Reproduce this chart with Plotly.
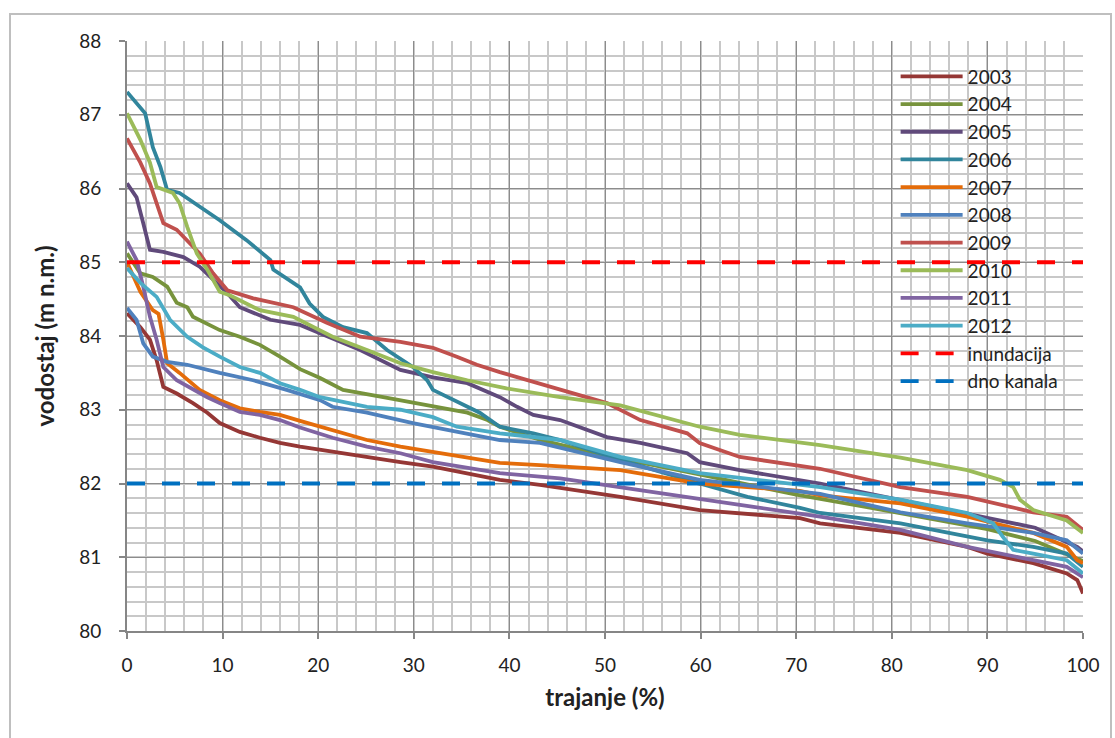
import plotly.graph_objects as go

years = ["2003", "2004", "2005", "2006", "2007", "2008", "2009", "2010", "2011", "2012"]
colors = ["#953735", "#77933C", "#604A7B", "#31859C", "#E46C0A",
          "#4F81BD", "#C0504D", "#9BBB59", "#8064A2", "#4BACC6"]

x_2003 = [0, 1.4, 2.4, 3.1, 3.8, 5.2, 6.9, 8.4, 9.7, 11.8, 13.9, 16, 18.1, 21.5, 25.1, 28.6, 32, 35.6, 39,
          43.2, 45.3, 51.6, 59.9, 70.4, 72.5, 80.9, 87.9, 90, 94.8, 98.3, 99.4, 100]
y_2003 = [84.31, 84.12, 83.95, 83.67, 83.31, 83.22, 83.09, 82.96, 82.82, 82.70, 82.62, 82.55, 82.5, 82.43, 82.36,
          82.29, 82.23, 82.14, 82.05, 81.98, 81.94, 81.82, 81.64, 81.53, 81.46, 81.33, 81.14, 81.05, 80.92, 80.78,
          80.69, 80.51]

x_2004 = [0, 1, 1.4, 2.7, 4.2, 5.2, 6.3, 6.9, 7.9, 9.7, 11.8, 13.9, 16, 18.1, 20.2, 22.6, 26.8, 32, 35.6, 37.7,
          39, 43, 50, 60, 70, 80, 90, 95, 100]
y_2004 = [85.12, 84.94, 84.85, 84.8, 84.67, 84.45, 84.39, 84.26, 84.2, 84.08, 83.99, 83.88, 83.72, 83.55, 83.43,
          83.27, 83.17, 83.04, 82.96, 82.86, 82.77, 82.6, 82.38, 82.12, 81.85, 81.62, 81.38, 81.22, 80.95]

x_2005 = [0, 1, 1.7, 2.4, 3.8, 5.9, 7.6, 9, 10.5, 11.8, 15, 18.1, 24.4, 28.6, 32, 35.6, 39, 40.8, 42.5, 45.3,
          50.2, 53.7, 58.6, 59.9, 64.1, 72.5, 80, 90.6, 95, 99.4, 100]
y_2005 = [86.07, 85.88, 85.53, 85.17, 85.14, 85.07, 84.94, 84.76, 84.58, 84.39, 84.22, 84.15, 83.81, 83.54,
          83.44, 83.36, 83.17, 83.04, 82.93, 82.86, 82.63, 82.55, 82.41, 82.29, 82.18, 82.0, 81.8, 81.53, 81.4,
          81.14, 81.08]

x_2006 = [0, 1.9, 2.7, 3.5, 4.2, 5.5, 9.7, 12.5, 15, 15.3, 18.1, 19.1, 20.5, 22.6, 25.1, 27.2, 29.9, 31.4, 32,
          34.8, 36.9, 39, 42.5, 45.3, 51.6, 59.9, 64.9, 70.4, 72.5, 80.9, 90, 94.8, 98.3, 100]
y_2006 = [87.31, 87.02, 86.56, 86.29, 85.98, 85.94, 85.57, 85.3, 85.03, 84.9, 84.66, 84.44, 84.26, 84.12, 84.04,
          83.81, 83.58, 83.40, 83.27, 83.09, 82.96, 82.77, 82.68, 82.59, 82.32, 82.0, 81.82, 81.67, 81.6, 81.46,
          81.23, 81.14, 81.05, 80.87]

x_2007 = [0, 1.4, 2.7, 3.3, 3.8, 4.2, 5.5, 7.6, 9.7, 11.8, 13.9, 16, 18.1, 21.5, 25.1, 28.6, 32, 35.6, 39, 43.2,
          51.6, 59.9, 70.4, 72.5, 80.9, 87.9, 94.8, 98.3, 99.4, 100]
y_2007 = [85.0, 84.6, 84.35, 84.3, 83.95, 83.63, 83.5, 83.27, 83.13, 83.02, 82.97, 82.93, 82.85, 82.72, 82.59,
          82.5, 82.43, 82.36, 82.28, 82.25, 82.18, 82.0, 81.9, 81.84, 81.73, 81.55, 81.33, 81.14, 80.96, 80.92]

x_2008 = [0, 1, 1.7, 2.7, 4.2, 6.3, 9.7, 13.2, 16.7, 20.2, 21.5, 25.1, 29.9, 33.8, 39, 43.2, 51.6, 59.9, 70.4,
          72.5, 80.9, 87.9, 94.8, 98.3, 100]
y_2008 = [84.38, 84.22, 83.9, 83.72, 83.65, 83.61, 83.5, 83.4, 83.27, 83.13, 83.04, 82.96, 82.82, 82.72, 82.59,
          82.55, 82.29, 82.05, 81.9, 81.86, 81.61, 81.46, 81.33, 81.23, 81.05]

x_2009 = [0, 1.4, 2.4, 3.1, 3.8, 5.2, 6.6, 7.6, 9, 10.5, 13.2, 17.4, 20.9, 24.4, 28.6, 32, 34.5, 36.6, 39, 42.5,
          46.3, 50.2, 53.7, 58.6, 59.9, 64.1, 72.5, 80.9, 87.9, 92.7, 94.8, 98.3, 100]
y_2009 = [86.68, 86.35, 86.07, 85.8, 85.53, 85.44, 85.26, 85.12, 84.85, 84.62, 84.51, 84.39, 84.18, 83.99, 83.92,
          83.84, 83.72, 83.61, 83.51, 83.38, 83.23, 83.09, 82.86, 82.68, 82.55, 82.36, 82.2, 81.95, 81.82, 81.68,
          81.61, 81.55, 81.37]

x_2010 = [0, 1.4, 2.4, 3.1, 4.8, 5.5, 6.3, 7.3, 8.4, 9.7, 10.8, 13.9, 17.4, 21.5, 25.1, 28.6, 32, 35.6, 39.7,
          45.3, 51.6, 59.9, 64.1, 72.5, 80.9, 87.9, 91.3, 92.7, 93.4, 94.8, 98.3, 100]
y_2010 = [87.02, 86.66, 86.35, 86.02, 85.94, 85.8, 85.48, 85.12, 84.9, 84.6, 84.55, 84.35, 84.26, 83.99, 83.81,
          83.63, 83.51, 83.40, 83.29, 83.17, 83.06, 82.77, 82.66, 82.52, 82.35, 82.18, 82.05, 81.95, 81.78, 81.64,
          81.5, 81.33]

x_2011 = [0, 1, 1.7, 2.4, 3.1, 3.8, 5.2, 6.9, 8.4, 9.7, 11.8, 13.9, 16, 18.1, 21.5, 25.1, 28.6, 32, 35.6, 39,
          45.3, 51.6, 59.9, 72.5, 80.9, 87.9, 94.8, 98.3, 100]
y_2011 = [85.28, 85.03, 84.67, 84.26, 83.95, 83.58, 83.4, 83.27, 83.17, 83.09, 82.97, 82.93, 82.86, 82.76, 82.62,
          82.5, 82.41, 82.29, 82.21, 82.14, 82.07, 81.95, 81.78, 81.55, 81.37, 81.14, 80.96, 80.87, 80.73]

x_2012 = [0, 1.4, 3.1, 4.5, 6.3, 7.9, 9.7, 11.8, 13.9, 16, 18.1, 20.2, 25.1, 28.6, 32, 34.5, 39, 45.3, 51.6, 59.9,
          72.5, 80.9, 87.9, 90.6, 91.6, 92.7, 94.8, 98.3, 100]
y_2012 = [84.92, 84.72, 84.53, 84.22, 83.99, 83.85, 83.72, 83.58, 83.5, 83.36, 83.27, 83.17, 83.04, 83.0, 82.9,
          82.77, 82.68, 82.59, 82.36, 82.14, 81.95, 81.78, 81.6, 81.46, 81.28, 81.1, 81.05, 80.96, 80.78]

x_series = [x_2003, x_2004, x_2005, x_2006, x_2007, x_2008, x_2009, x_2010, x_2011, x_2012]
y_series = [y_2003, y_2004, y_2005, y_2006, y_2007, y_2008, y_2009, y_2010, y_2011, y_2012]

ref_names = ["inundacija", "dno kanala"]
ref_levels = [85, 82]
ref_colors = ["#FF0000", "#0070C0"]
ref_x = [0, 100]

x_ticks = [0, 10, 20, 30, 40, 50, 60, 70, 80, 90, 100]
y_ticks = [80, 81, 82, 83, 84, 85, 86, 87, 88]

FONT = "Lato, 'Open Sans', sans-serif"

fig = go.Figure()
for name, col, xs, ys in zip(years, colors, x_series, y_series):
    fig.add_trace(go.Scatter(x=xs, y=ys, mode="lines", name=name,
                             line=dict(color=col, width=3.8)))
for name, lvl, col in zip(ref_names, ref_levels, ref_colors):
    fig.add_trace(go.Scatter(x=ref_x, y=[lvl, lvl], mode="lines", name=name,
                             line=dict(color=col, width=3.8, dash="18px,17px")))

axis_common = dict(
    showline=True, linecolor="#868686", linewidth=2,
    gridcolor="#8C8C8C", gridwidth=1,
    ticks="outside", ticklen=6, tickcolor="#868686", tickwidth=1.5,
    tickfont=dict(family=FONT, size=19, color="#222222"),
    zeroline=False, automargin=False,
)

fig.update_layout(
    width=1115, height=738,
    margin=dict(l=127, r=32, t=41, b=107),
    paper_bgcolor="white", plot_bgcolor="white",
    font=dict(family=FONT, color="#222222"),
    xaxis=dict(range=[0, 100], tickvals=x_ticks, ticklabelstandoff=10,
               minor=dict(dtick=2, showgrid=True, gridcolor="#C8C8C8", gridwidth=1.6, ticks=""),
               title=dict(text="<b>trajanje (%)</b>", font=dict(family=FONT, size=24, color="#222222"),
                          standoff=14),
               **axis_common),
    yaxis=dict(range=[80, 88], tickvals=y_ticks, ticklabelstandoff=14,
               minor=dict(dtick=0.2, showgrid=True, gridcolor="#C8C8C8", gridwidth=1.6, ticks=""),
               title=dict(text="<b>vodostaj (m n.m.)</b>", font=dict(family=FONT, size=24, color="#222222"),
                          standoff=18),
               **axis_common),
    legend=dict(x=0.804, y=0.972, xanchor="left", yanchor="top",
                bgcolor="rgba(0,0,0,0)", itemwidth=62,
                font=dict(family=FONT, size=19, color="#222222"),
                tracegroupgap=0),
    showlegend=True,
    shapes=[dict(type="rect", xref="paper", yref="paper",
                 x0=(10 - 127) / 956, x1=(1111 - 127) / 956,
                 y0=(631 - 745) / 590, y1=(631 - 14) / 590,
                 line=dict(color="#BFBFBF", width=2), fillcolor="rgba(0,0,0,0)", layer="below")],
)

fig.write_html("out.html", config={"displayModeBar": False},
               post_script="document.body.style.margin='0';document.body.style.overflow='hidden';")
